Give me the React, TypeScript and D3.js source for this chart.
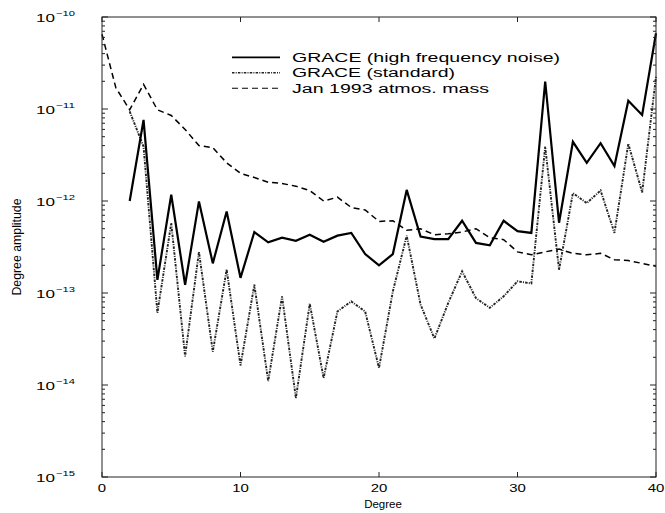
import React from "react";
import * as d3 from "d3";

const atmosDegrees = [0,1,2,3,4,5,6,7,8,9,10,11,12,13,14,15,16,17,18,19,20,21,22,23,24,25,26,27,28,29,30,31,32,33,34,35,36,37,38,39,40];
const atmosValues = [6.5e-11,1.7e-11,9.8e-12,1.85e-11,9.8e-12,8.5e-12,6.0e-12,4.0e-12,3.8e-12,2.6e-12,2.0e-12,1.8e-12,1.6e-12,1.55e-12,1.45e-12,1.3e-12,1.0e-12,1.1e-12,8.5e-13,8.0e-13,6.0e-13,6.1e-13,4.8e-13,5.0e-13,4.3e-13,4.4e-13,4.6e-13,5.0e-13,4.0e-13,3.8e-13,2.8e-13,2.6e-13,2.8e-13,3.0e-13,2.7e-13,2.6e-13,2.7e-13,2.3e-13,2.25e-13,2.1e-13,1.95e-13];

const graceDegrees = [2,3,4,5,6,7,8,9,10,11,12,13,14,15,16,17,18,19,20,21,22,23,24,25,26,27,28,29,30,31,32,33,34,35,36,37,38,39,40];
const noiseValues = [1.0e-12,7.6e-12,1.39e-13,1.17e-12,1.23e-13,9.9e-13,2.1e-13,7.7e-13,1.46e-13,4.6e-13,3.55e-13,4.0e-13,3.7e-13,4.3e-13,3.6e-13,4.2e-13,4.5e-13,2.65e-13,2.0e-13,2.65e-13,1.32e-12,4.1e-13,3.85e-13,3.85e-13,6.1e-13,3.5e-13,3.3e-13,6.1e-13,4.7e-13,4.5e-13,1.99e-11,5.8e-13,4.4e-12,2.6e-12,4.25e-12,2.4e-12,1.23e-11,8.6e-12,6.65e-11];
const standardValues = [9.4e-12,3.9e-12,6.1e-14,5.75e-13,2.05e-14,2.8e-13,2.3e-14,1.8e-13,1.63e-14,1.23e-13,1.1e-14,9.2e-14,7.2e-15,7.65e-14,1.19e-14,6.3e-14,8.1e-14,6.3e-14,1.53e-14,1.04e-13,4.2e-13,7.5e-14,3.2e-14,7.8e-14,1.72e-13,8.8e-14,6.9e-14,9.2e-14,1.34e-13,1.27e-13,3.9e-12,1.79e-13,1.22e-12,9.5e-13,1.3e-12,4.5e-13,4.2e-12,1.24e-12,2.25e-11];

const xTicks = [0,10,20,30,40];
const yExponents = [-10,-11,-12,-13,-14,-15];
const legendLabels = ["GRACE (high frequency noise)", "GRACE (standard)", "Jan 1993 atmos. mass"];
const xLabel = "Degree";
const yLabel = "Degree amplitude";

const W = 665, H = 513;
const L = 102, R = 656, T = 17, B = 477;
const FONT = "'Liberation Sans', Arial, Helvetica, sans-serif";
// horizontal stretch of the (scaled) reference lettering
const LEGEND_WIDTHS = [268, 163, 197];

export default function App() {
  const x = d3.scaleLinear().domain([0, 40]).range([L, R]);
  const y = d3.scaleLog().domain([1e-15, 1e-10]).range([B, T]);

  const line = d3.line<[number, number]>().x(d => x(d[0])).y(d => y(d[1]));
  const atmosPath = line(atmosDegrees.map((d, i) => [d, atmosValues[i]] as [number, number])) || "";
  const noisePath = line(graceDegrees.map((d, i) => [d, noiseValues[i]] as [number, number])) || "";
  const stdPath = line(graceDegrees.map((d, i) => [d, standardValues[i]] as [number, number])) || "";

  const minorTicks: number[] = [];
  for (let e = -15; e < -10; e++) {
    for (let m = 2; m <= 9; m++) minorTicks.push(m * Math.pow(10, e));
  }

  const styles = [
    { dash: "none", w: 2.2, c: "#000" },
    { dash: "2.5 1.2 1 1.2", w: 1.9, c: "#222" },
    { dash: "6 4", w: 1.5, c: "#000" },
  ];

  return (
    <svg width={W} height={H} style={{ position: "absolute", left: 0, top: 0, background: "#fff" }} fontFamily={FONT}>
      <rect x={0} y={0} width={W} height={H} fill="#fff" />
      {/* data */}
      <path d={atmosPath} fill="none" stroke={styles[2].c} strokeWidth={styles[2].w} strokeDasharray={styles[2].dash} />
      <path d={stdPath} fill="none" stroke={styles[1].c} strokeWidth={styles[1].w} strokeDasharray={styles[1].dash} />
      <path d={noisePath} fill="none" stroke={styles[0].c} strokeWidth={styles[0].w} strokeLinejoin="miter" />

      {/* box */}
      <rect x={L} y={T} width={R - L} height={B - T} fill="none" stroke="#222" strokeWidth={1} />
      {/* y ticks */}
      {yExponents.map(e => {
        const yy = y(Math.pow(10, e));
        return (
          <g key={"ym" + e}>
            <line x1={L} x2={L + 6} y1={yy} y2={yy} stroke="#222" />
            <line x1={R} x2={R - 6} y1={yy} y2={yy} stroke="#222" />
            <text x={36} y={yy + 5} fontSize={11.5} textLength={19} lengthAdjust="spacingAndGlyphs" fill="#000">10</text>
            <text x={56} y={yy - 1} fontSize={7.5} textLength={19} lengthAdjust="spacingAndGlyphs" fill="#000">{"\u2212" + String(-e)}</text>
          </g>
        );
      })}
      {minorTicks.map((v, i) => {
        const yy = y(v);
        return (
          <g key={"yn" + i}>
            <line x1={L} x2={L + 3} y1={yy} y2={yy} stroke="#222" />
            <line x1={R} x2={R - 3} y1={yy} y2={yy} stroke="#222" />
          </g>
        );
      })}
      {/* x ticks */}
      {xTicks.map(t => {
        const xx = x(t);
        const s = String(t);
        const tl = s.length * 8.3;
        return (
          <g key={"x" + t}>
            <line x1={xx} x2={xx} y1={B} y2={B - 5} stroke="#222" />
            <line x1={xx} x2={xx} y1={T} y2={T + 5} stroke="#222" />
            <text x={xx - tl / 2} y={491.5} fontSize={11.5} textLength={tl} lengthAdjust="spacingAndGlyphs" fill="#000">{s}</text>
          </g>
        );
      })}
      <text x={383} y={507.5} fontSize={11.5} textAnchor="middle" fill="#000">{xLabel}</text>
      <text transform={`translate(21,${(T + B) / 2}) rotate(-90)`} fontSize={12.3} textAnchor="middle" fill="#000">{yLabel}</text>

      {/* legend */}
      {legendLabels.map((lab, i) => {
        const yy = 57.3 + i * 15.5;
        const s = styles[i];
        return (
          <g key={"lg" + i}>
            <line x1={232} x2={280} y1={yy} y2={yy} stroke={s.c} strokeWidth={s.w * 0.75} strokeDasharray={s.dash} />
            <text x={292} y={yy + 4.5} fontSize={12.5} textLength={LEGEND_WIDTHS[i]} lengthAdjust="spacingAndGlyphs" fill="#000">{lab}</text>
          </g>
        );
      })}
    </svg>
  );
}
